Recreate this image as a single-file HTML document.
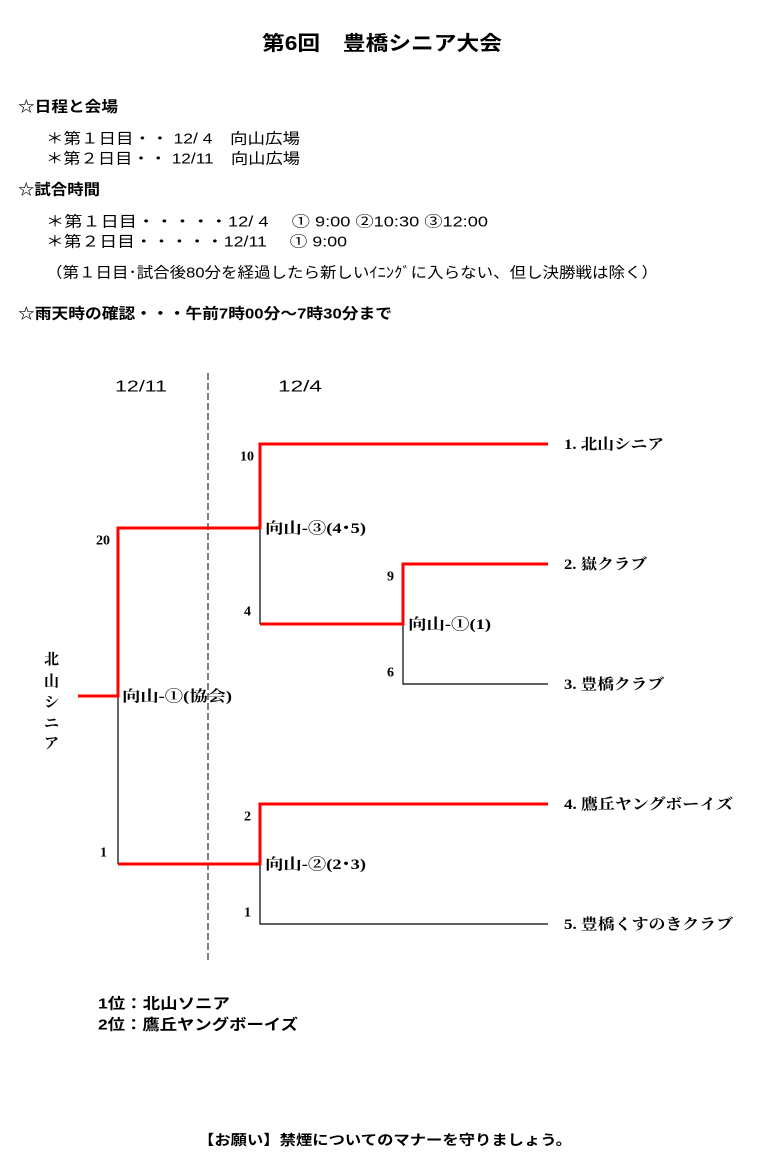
<!DOCTYPE html>
<html><head><meta charset="utf-8"><style>
body{margin:0;background:#fff;}
svg{display:block;}
text{font-family:"Liberation Serif","Noto Serif CJK SC","Noto Sans CJK JP",serif;fill:#000;dominant-baseline:central;}
.g{font-family:"Liberation Sans","Noto Sans CJK JP",sans-serif;}
.b{font-weight:bold;}
</style></head><body>
<svg width="768" height="1165" viewBox="0 0 768 1165">
<text x="262" y="44" font-size="20" class="g b" textLength="240" lengthAdjust="spacingAndGlyphs">第6回　豊橋シニア大会</text>
<text x="18" y="107" font-size="15" class="g b" textLength="100" lengthAdjust="spacingAndGlyphs">☆日程と会場</text>
<text x="46" y="139" font-size="15" class="g" textLength="254" lengthAdjust="spacingAndGlyphs">＊第１日目・・ 12/ 4　向山広場</text>
<text x="46" y="159" font-size="15" class="g" textLength="254" lengthAdjust="spacingAndGlyphs">＊第２日目・・ 12/11　向山広場</text>
<text x="18" y="190" font-size="15" class="g b" textLength="82" lengthAdjust="spacingAndGlyphs">☆試合時間</text>
<text x="46" y="222" font-size="15" class="g" textLength="442" lengthAdjust="spacingAndGlyphs">＊第１日目・・・・・12/ 4　 ① 9:00 ②10:30 ③12:00</text>
<text x="46" y="242" font-size="15" class="g" textLength="301" lengthAdjust="spacingAndGlyphs">＊第２日目・・・・・12/11　 ① 9:00</text>
<text x="46" y="273" font-size="15" class="g" textLength="612" lengthAdjust="spacingAndGlyphs">（第１日目･試合後80分を経過したら新しいｲﾆﾝｸﾞに入らない、但し決勝戦は除く）</text>
<text x="18" y="314" font-size="15" class="g b" textLength="374" lengthAdjust="spacingAndGlyphs">☆雨天時の確認・・・午前7時00分～7時30分まで</text>

<text x="115" y="387" font-size="16" class="g" textLength="52" lengthAdjust="spacingAndGlyphs">12/11</text>
<text x="278" y="387" font-size="16" class="g" textLength="44" lengthAdjust="spacingAndGlyphs">12/4</text>
<line x1="208" y1="373" x2="208" y2="962" stroke="#000" stroke-width="1" stroke-dasharray="7,3"/>

<g stroke="#000" stroke-width="1.2" fill="none">
<polyline points="260,528 260,624"/>
<polyline points="403,624 403,684 548,684"/>
<polyline points="118,696 118,864"/>
<polyline points="260,864 260,924 548,924"/>
</g>
<g stroke="#f00" stroke-width="3" fill="none">
<polyline points="78,696 118,696 118,528 260,528 260,444 548,444"/>
<polyline points="260,624 403,624 403,564 548,564"/>
<polyline points="118,864 260,864 260,804 548,804"/>
</g>

<g font-size="14" class="b">
<text x="240" y="457">10</text>
<text x="96" y="541">20</text>
<text x="244" y="612">4</text>
<text x="387" y="577">9</text>
<text x="387" y="673">6</text>
<text x="244" y="817">2</text>
<text x="100" y="853">1</text>
<text x="244" y="913">1</text>
</g>
<g font-size="15" class="b">
<text x="564" y="445" textLength="100" lengthAdjust="spacingAndGlyphs">1. 北山シニア</text>
<text x="564" y="565" textLength="83" lengthAdjust="spacingAndGlyphs">2. 嶽クラブ</text>
<text x="564" y="685" textLength="100" lengthAdjust="spacingAndGlyphs">3. 豊橋クラブ</text>
<text x="564" y="805" textLength="169" lengthAdjust="spacingAndGlyphs">4. 鷹丘ヤングボーイズ</text>
<text x="564" y="925" textLength="169" lengthAdjust="spacingAndGlyphs">5. 豊橋くすのきクラブ</text>
<text x="265" y="529" textLength="101" lengthAdjust="spacingAndGlyphs">向山-③(4･5)</text>
<text x="408" y="625" textLength="83" lengthAdjust="spacingAndGlyphs">向山-①(1)</text>
<text x="122" y="697" textLength="110" lengthAdjust="spacingAndGlyphs">向山-①(協会)</text>
<text x="265" y="865" textLength="101" lengthAdjust="spacingAndGlyphs">向山-②(2･3)</text>
<text x="44" y="660">北</text>
<text x="44" y="682">山</text>
<text x="44" y="703">シ</text>
<text x="44" y="724">ニ</text>
<text x="44" y="744">ア</text>
</g>
<text x="98" y="1004" font-size="15" class="g b" textLength="132" lengthAdjust="spacingAndGlyphs">1位：北山ソニア</text>
<text x="98" y="1025" font-size="15" class="g b" textLength="200" lengthAdjust="spacingAndGlyphs">2位：鷹丘ヤングボーイズ</text>
<text x="198" y="1140" font-size="14" class="g b" textLength="374" lengthAdjust="spacingAndGlyphs">【お願い】禁煙についてのマナーを守りましょう。</text>
</svg>
</body></html>
